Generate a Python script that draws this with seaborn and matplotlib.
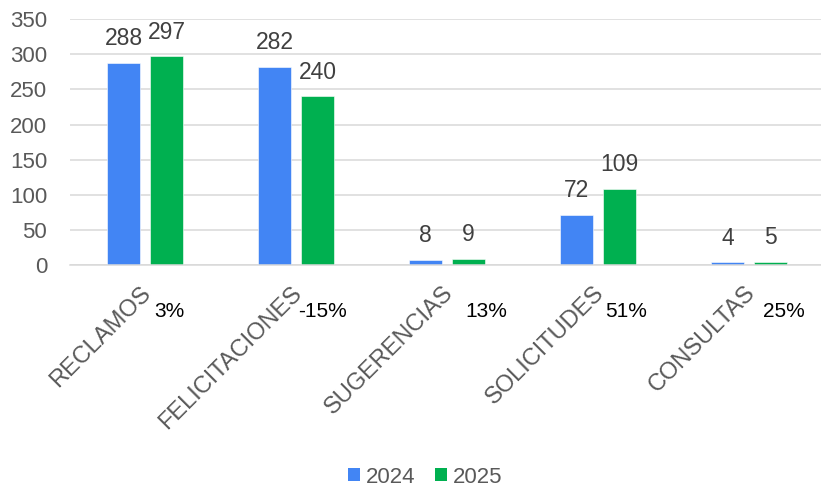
import math
import matplotlib
matplotlib.use("Agg")
import matplotlib.pyplot as plt
import matplotlib.transforms as mtransforms
import seaborn as sns
import pandas as pd
from matplotlib.patches import Patch

categories = ["RECLAMOS", "FELICITACIONES", "SUGERENCIAS", "SOLICITUDES", "CONSULTAS"]
years = ["2024", "2025"]
values_2024 = [288, 282, 8, 72, 4]
values_2025 = [297, 240, 9, 109, 5]
y_ticks = [0, 50, 100, 150, 200, 250, 300, 350]

# horizontal nudges (px) of the year-over-year change labels from each category centre
change_offsets = [24, 26, 39, 28, 35]

df = pd.DataFrame({
    "categoria": categories * 2,
    "año": [years[0]] * len(categories) + [years[1]] * len(categories),
    "valor": values_2024 + values_2025,
})

sns.set_theme(style="white")
plt.rcParams["font.family"] = ["Liberation Sans", "DejaVu Sans"]

colors = {"2024": "#4285F4", "2025": "#00B050"}
grid_color = "#D9D9D9"
text_color = "#595959"

W, H = 821, 486
fig = plt.figure(figsize=(W / 100, H / 100), dpi=100)
ax = fig.add_axes([69.5 / W, (H - 265.3) / H, 755 / W, 246.3 / H])

sns.barplot(
    data=df, x="categoria", y="valor", hue="año",
    order=categories, hue_order=years, palette=colors,
    width=0.57, gap=0.22, saturation=1, errorbar=None,
    edgecolor="white", linewidth=0.4, legend=False, ax=ax,
)

for container in ax.containers:
    ax.bar_label(container, padding=9, fontsize=16.5, color="#404040")

ax.set_xlim(-0.5, len(categories) - 0.5)
ax.set_ylim(0, 350)
ax.set_yticks(y_ticks)
ax.set_yticklabels([str(t) for t in y_ticks], fontsize=16, color=text_color)
ax.yaxis.grid(True, color=grid_color, linewidth=1.1)
ax.set_axisbelow(True)
ax.set_xlabel("")
ax.set_ylabel("")

ax.set_xticks(range(len(categories)))
ax.set_xticklabels(categories, rotation=45, ha="right", rotation_mode="anchor",
                   fontsize=17, color=text_color)
ax.tick_params(axis="x", length=0, pad=12)
ax.tick_params(axis="y", length=0, pad=16)

# nudge the rotated category labels slightly to the left
shift = mtransforms.ScaledTranslation(-0.05, 0.0, fig.dpi_scale_trans)
for lbl in ax.get_xticklabels():
    lbl.set_transform(lbl.get_transform() + shift)

for side in ["top", "right", "left"]:
    ax.spines[side].set_visible(False)
ax.spines["bottom"].set_color(grid_color)
ax.spines["bottom"].set_linewidth(1.1)

# percentage change 2024 -> 2025, rounded half up
for i, (a, b) in enumerate(zip(values_2024, values_2025)):
    pct = math.floor((b - a) / a * 100 + 0.5)
    ax.annotate(f"{pct}%", xy=(i, 0), xycoords="data",
                xytext=(change_offsets[i], -46), textcoords="offset pixels",
                ha="center", va="center", fontsize=15, color="black")

handles = [Patch(facecolor=colors[y], edgecolor="none", label=y) for y in years]
fig.legend(handles=handles, loc="center", bbox_to_anchor=(425 / W, 1 - 477 / H),
           ncol=2, frameon=False, fontsize=16, handlelength=0.55, handleheight=0.55,
           handletextpad=0.25, columnspacing=0.9, labelcolor=text_color)

fig.savefig("out.png", dpi=100)
